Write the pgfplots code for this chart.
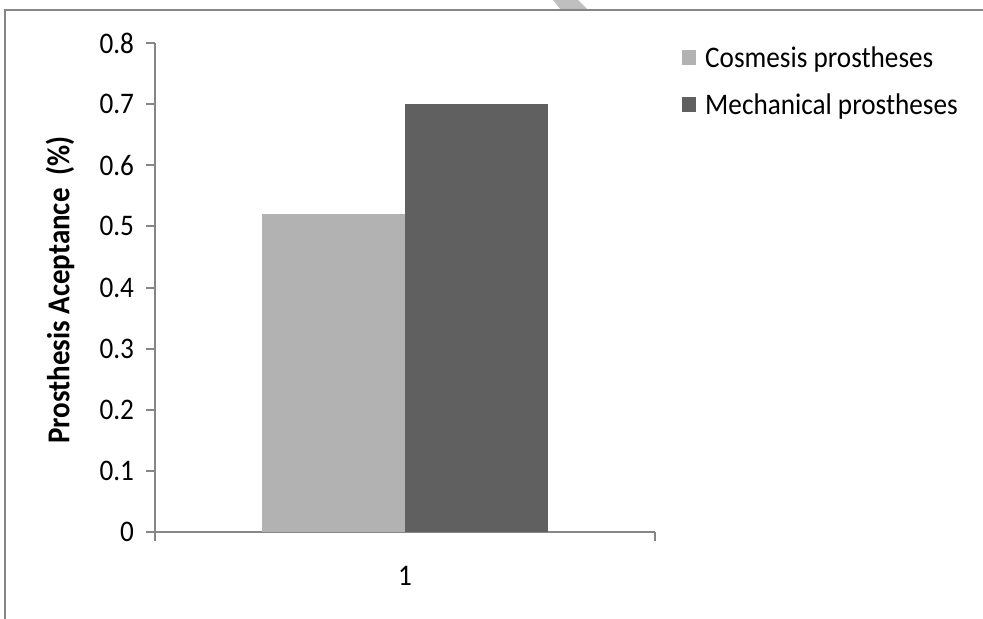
\documentclass[border=0pt]{standalone}
\usepackage{fontspec}
\setmainfont{Carlito}[FakeStretch=0.91]
\usepackage{pgfplots}
\pgfplotsset{compat=1.18}
\definecolor{cosm}{HTML}{B2B2B2}
\definecolor{mech}{HTML}{606060}
\definecolor{axgray}{HTML}{868686}
\begin{document}
\begin{tikzpicture}[x=1bp,y=1bp]
\useasboundingbox (0,0) rectangle (983,-619);
% watermark fragment and outer frame
\fill[gray!50] (553,0) -- (578,0) -- (588,-10) -- (561,-10) -- cycle;
\draw[axgray,line width=2bp] (5,-619) -- (5,-10) -- (983,-10);
\begin{axis}[
  at={(155bp,-532bp)}, anchor=south west,
  scale only axis, width=500bp, height=489bp,
  font=\fontsize{30}{36}\selectfont,
  /pgf/number format/assume math mode=true,
  ybar=0pt, bar width=143bp,
  xmin=0, xmax=2, ymin=0, ymax=0.8,
  axis x line*=bottom, axis y line*=left,
  axis line style={axgray,line width=2bp,-},
  tick style={axgray,line width=2bp},
  tick align=outside, major tick length=8.5bp,
  xtick={0,2}, xticklabels={},
  extra x ticks={1}, extra x tick labels={1},
  extra x tick style={tick style={draw=none},
    xticklabel style={yshift=-22bp}},
  ytick={0,0.1,...,0.8},
  yticklabel style={xshift=-9bp,
    /pgf/number format/.cd,fixed,precision=1},
  ylabel={\bfseries Prosthesis Aceptance\ \ (\%)},
  ylabel style={at={(axis description cs:-0.19,0.495)},anchor=center,
    font=\fontsize{32}{38}\selectfont},
  legend style={at={(axis description cs:1.054,1.01)},anchor=north west,
    yshift=-6bp,
    draw=none,fill=none,inner sep=0pt,row sep=21bp,
    font=\fontsize{30}{36}\selectfont,
    nodes={inner sep=2bp,anchor=west},
    /tikz/every odd column/.append style={column sep=7bp}},
  legend cell align=left,
  legend image code/.code={\fill[#1,draw=none] (0bp,-7.5bp) rectangle (14bp,7.5bp);},
]
\addplot[fill=cosm,draw=none] coordinates {(1,0.52)};
\addplot[fill=mech,draw=none] coordinates {(1,0.70)};
\legend{Cosmesis prostheses,Mechanical prostheses}
\end{axis}
\end{tikzpicture}
\end{document}
